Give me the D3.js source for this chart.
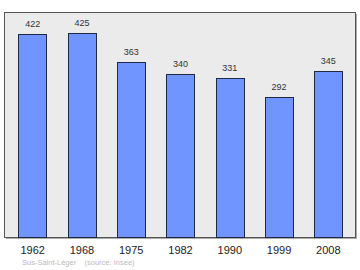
<!DOCTYPE html>
<html>
<head>
<meta charset="utf-8">
<script src="https://cdn.jsdelivr.net/npm/d3@7"></script>
<style>
  body { margin: 0; background: #fff; }
  svg { display: block; font-family: "Liberation Sans", Arial, sans-serif; }
</style>
</head>
<body>
<div id="container"></div>
<script>
const years = ["1962", "1968", "1975", "1982", "1990", "1999", "2008"];
const population = [422, 425, 363, 340, 331, 292, 345];
const sourceText = "Sus-Saint-Léger    (source: Insee)";

const w = 360;
const h = 270;
const frame = { left: 4.5, top: 12.5, right: 355.5, bottom: 237.5 };

const svg = d3.select("#container")
  .append("svg")
  .attr("width", w)
  .attr("height", h);

const xScale = d3.scaleBand()
  .domain(years)
  .range([8, 353])
  .paddingInner(0.425)
  .paddingOuter(0.2125);

const yScale = d3.scaleLinear()
  .domain([0, 468])
  .range([237, 12]);

// shadow + plot frame
svg.append("rect")
  .attr("x", frame.left + 1.5)
  .attr("y", frame.top + 1.5)
  .attr("width", frame.right - frame.left)
  .attr("height", frame.bottom - frame.top)
  .attr("fill", "#aaa");

svg.append("rect")
  .attr("x", frame.left)
  .attr("y", frame.top)
  .attr("width", frame.right - frame.left)
  .attr("height", frame.bottom - frame.top)
  .attr("fill", "#ebebeb")
  .attr("stroke", "#555")
  .attr("stroke-width", 1);

const data = years.map((y, i) => ({ year: y, value: population[i] }));

svg.selectAll("rect.bar")
  .data(data)
  .enter()
  .append("rect")
  .attr("class", "bar")
  .attr("x", (d) => Math.round(xScale(d.year)) + 0.5)
  .attr("y", (d) => Math.round(yScale(d.value)) + 0.5)
  .attr("width", Math.round(xScale.bandwidth()))
  .attr("height", (d) => yScale(0) - Math.round(yScale(d.value)))
  .attr("fill", "#7095ff")
  .attr("stroke", "#1e2a44")
  .attr("stroke-width", 1);

svg.selectAll("text.val")
  .data(data)
  .enter()
  .append("text")
  .attr("class", "val")
  .attr("x", (d) => xScale(d.year) + xScale.bandwidth() / 2)
  .attr("y", (d) => yScale(d.value) - 7)
  .attr("text-anchor", "middle")
  .attr("font-size", "9px")
  .attr("fill", "#333")
  .text((d) => d.value);

const xAxis = d3.axisBottom(xScale).tickSize(0).tickPadding(9);
const gx = svg.append("g")
  .attr("transform", "translate(0, " + frame.bottom + ")")
  .call(xAxis);
gx.select(".domain").remove();
gx.selectAll("text")
  .attr("font-size", "11px")
  .attr("font-family", "\"Liberation Sans\", Arial, sans-serif")
  .attr("fill", "#222");

svg.append("text")
  .attr("x", 22)
  .attr("y", 265)
  .attr("font-size", "7.5px")
  .attr("fill", "#bbb")
  .attr("xml:space", "preserve")
  .style("white-space", "pre")
  .text(sourceText);
</script>
</body>
</html>
